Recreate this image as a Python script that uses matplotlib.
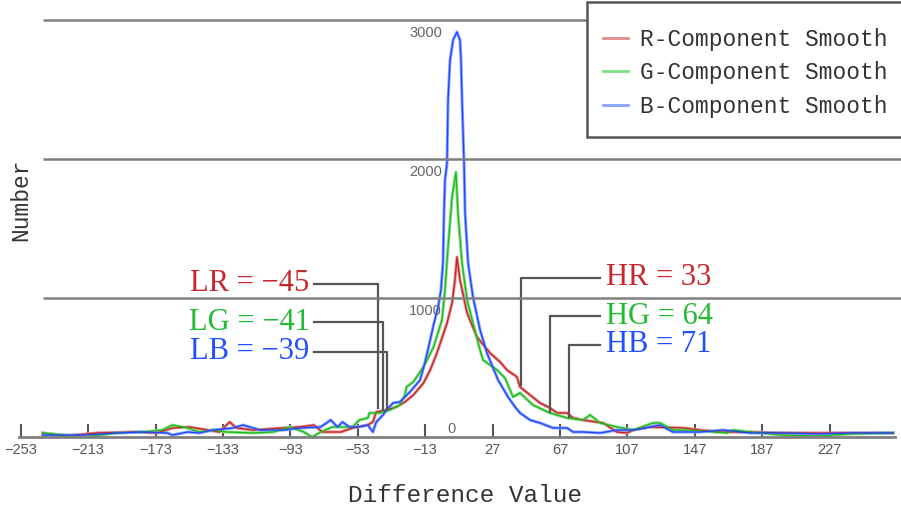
import matplotlib.pyplot as plt
from matplotlib.lines import Line2D
from matplotlib.patches import Rectangle

# smoothed histograms of the R/G/B difference values
red_x = [-240, -226, -208, -186, -172, -163, -153, -142, -135, -129,
         -125, -115, -97, -87, -79, -74, -63, -56, -47, -44,
         -42, -36, -30, -25, -20, -14, -10, -6, -2.4, 0,
         3, 4.7, 5.9, 7.7, 11.9, 17.8, 25.5, 31.5, 35.6, 41.5,
         43.3, 49.3, 55.2, 61.1, 65.3, 71.2, 74.8, 80.7, 92.6, 100.9,
         106.8, 110.4, 120.5, 140.1, 160.2, 179.8, 199.4, 219.6, 239.2, 264.7]
red_y = [29, 7, 29, 36, 29, 65, 72, 50, 36, 108,
         65, 50, 65, 72, 86, 36, 36, 65, 86, 108,
         180, 194, 216, 252, 302, 388, 482, 604, 734, 820,
         964, 1129, 1295, 1129, 892, 719, 604, 540, 482, 432,
         360, 302, 245, 209, 173, 173, 137, 122, 101, 36,
         29, 50, 72, 65, 36, 36, 29, 29, 29, 29]

green_x = [-240, -216, -196, -180, -169, -163, -154, -147, -139, -131,
           -115, -103, -93, -85, -80, -75, -68, -56, -52, -47,
           -46, -40, -34, -28, -25, -24, -20, -14, -8, -3,
           -1.2, 0.6, 3, 5.3, 6.5, 8.9, 11.9, 15.4, 19.6, 21.4,
           29.7, 34.4, 37.4, 39.2, 43.3, 51, 61.1, 71.2, 80.7, 84.9,
           90.8, 100.9, 110.4, 122.3, 126.4, 134.1, 140.1, 160.2, 166.2, 169.7,
           179.8, 199.4, 219.6, 239.2, 264.7]
green_y = [29, 0, 29, 36, 50, 86, 65, 36, 50, 36,
           29, 36, 72, 36, 0, 36, 72, 72, 122, 137,
           173, 173, 194, 230, 302, 360, 396, 504, 647, 842,
           1058, 1367, 1727, 1906, 1612, 1252, 986, 820, 626, 554,
           482, 424, 338, 288, 317, 230, 173, 137, 122, 158,
           101, 72, 50, 101, 101, 50, 50, 36, 29, 50,
           36, 14, 7, 22, 29]

blue_x = [-240, -216, -196, -180, -166, -163, -154, -147, -139, -127,
          -121, -111, -97, -87, -75, -69, -65, -62, -58, -53,
          -47, -44, -42, -38, -36, -32, -28, -25, -22, -19,
          -16, -13, -10, -8, -5.3, -3.6, -2.4, -1.8, -1.2, 0,
          0.6, 1.8, 3.6, 5.9, 7.7, 8.3, 8.9, 10.1, 10.7, 12.5,
          15.4, 19.6, 23.7, 30.3, 36.2, 40.4, 43.3, 49.3, 55.2, 62.9,
          71.2, 74.8, 80.7, 90.8, 100.9, 110.4, 120.5, 126.4, 134.1, 150.1,
          163.8, 179.8, 199.4, 219.6, 239.2, 264.7]
blue_y = [14, 14, 29, 36, 29, 14, 36, 29, 50, 65,
          86, 50, 50, 65, 72, 122, 72, 108, 72, 72,
          86, 36, 108, 158, 194, 245, 252, 288, 324, 367,
          410, 540, 698, 806, 935, 1058, 1252, 1612, 1849, 1971,
          2424, 2712, 2856, 2914, 2856, 2712, 2424, 1971, 1612, 1252,
          1007, 770, 604, 410, 288, 216, 173, 122, 101, 65,
          65, 36, 36, 29, 50, 50, 72, 86, 36, 36,
          50, 29, 29, 22, 29, 29]

tick_values = [-253, -213, -173, -133, -93, -53, -13, 27, 67, 107, 147, 187, 227]
grid_values = [1000, 2000, 3000]

series_labels = ["R-Component Smooth", "G-Component Smooth", "B-Component Smooth"]
dark_colors = ["#c42424", "#1fb81f", "#1f44ff"]
light_colors = ["#e28c8c", "#84e084", "#84a2ff"]
text_colors = ["#c8282d", "#22bb33", "#1f4fff"]

# threshold annotations
low_labels = ["LR = \u221245", "LG = \u221241", "LB = \u221239"]
low_text_y = [1101, 827, 612]
low_corner_x = [-41, -38, -35.6]
low_foot_y = [209, 194, 209]

high_labels = ["HR = 33", "HG = 64", "HB = 71"]
high_text_y = [1144, 870, 662]
high_corner_x = [43.9, 61.1, 72.4]
high_foot_y = [374, 180, 144]

fig = plt.figure(figsize=(9.01, 5.12), dpi=100)
ax = fig.add_axes([18 / 901, 75 / 512, 883 / 901, 437 / 512])
ax.set_xlim(-254.6, 269.4)
ax.set_ylim(0, 3144)

for xs, ys, dark, light in zip([red_x, green_x, blue_x], [red_y, green_y, blue_y],
                               dark_colors, light_colors):
    ax.plot(xs, ys, color=light, lw=2.2, zorder=2, solid_joinstyle="round")
    ax.plot(xs, ys, color=dark, lw=0.9, zorder=2.1)

ax.hlines(grid_values, -240, 269.4, color="#808080", lw=1.8, zorder=4)

for v in grid_values:
    ax.text(-3, v - 40, str(v), ha="right", va="top", fontsize=10.5,
            family="Liberation Sans", color="#666666", zorder=5)
ax.text(5.3, 6, "0", ha="right", va="bottom", fontsize=10.5,
        family="Liberation Sans", color="#666666")

# annotation leaders
ann_font = dict(family="Liberation Serif", fontsize=22)
for lab, ty, cx, fy, col in zip(low_labels, low_text_y, low_corner_x, low_foot_y, text_colors):
    ax.plot([-79, cx, cx], [ty, ty, fy], color="#555555", lw=1.6, zorder=3)
    ax.text(-81.5, ty, lab, ha="right", va="center", color=col, **ann_font)
for lab, ty, cx, fy, col in zip(high_labels, high_text_y, high_corner_x, high_foot_y, text_colors):
    ax.plot([90.8, cx, cx], [ty, ty, fy], color="#555555", lw=1.6, zorder=3)
    ax.text(94.4, ty, lab, ha="left", va="center", color=col, **ann_font)

for side in ["left", "right", "top"]:
    ax.spines[side].set_visible(False)
ax.spines["bottom"].set_color("#808080")
ax.spines["bottom"].set_linewidth(2)
ax.spines["bottom"].set_bounds(-254, 266)
ax.spines["bottom"].set_zorder(4)

ax.set_yticks([])
ax.set_xticks(tick_values)
ax.tick_params(axis="x", direction="in", length=9.5, width=1.5, color="#555555",
               pad=4, labelsize=10.5, labelcolor="#555555")
for lbl in ax.get_xticklabels():
    lbl.set_family("Liberation Sans")

# legend box drawn separately so its padding can match the reference
fig.add_artist(Rectangle((587 / 901, 1 - 137 / 512), 320 / 901, 135 / 512,
                         transform=fig.transFigure, facecolor="white",
                         edgecolor="#555555", lw=1.8, zorder=5))
handles = [Line2D([], [], color=c, lw=2) for c in light_colors]
leg = fig.legend(handles, series_labels, loc="upper left",
                 bbox_to_anchor=(587 / 901, 1 - 12 / 512), bbox_transform=fig.transFigure,
                 prop={"family": "Liberation Mono", "size": 16.5}, frameon=False,
                 handlelength=1.1, handletextpad=0.5, labelspacing=0.45,
                 borderpad=0.7, borderaxespad=0)
leg.set_zorder(6)
for t in leg.get_texts():
    t.set_color("#333333")

fig.text(465 / 901, 1 - 495 / 512, "Difference Value", ha="center", va="center",
         family="Liberation Mono", fontsize=17.6, color="#333333")
fig.text(21 / 901, 1 - 200 / 512, "Number", ha="center", va="center", rotation=90,
         family="Liberation Mono", fontsize=16.5, color="#333333")

fig.savefig("out.png", dpi=100)
